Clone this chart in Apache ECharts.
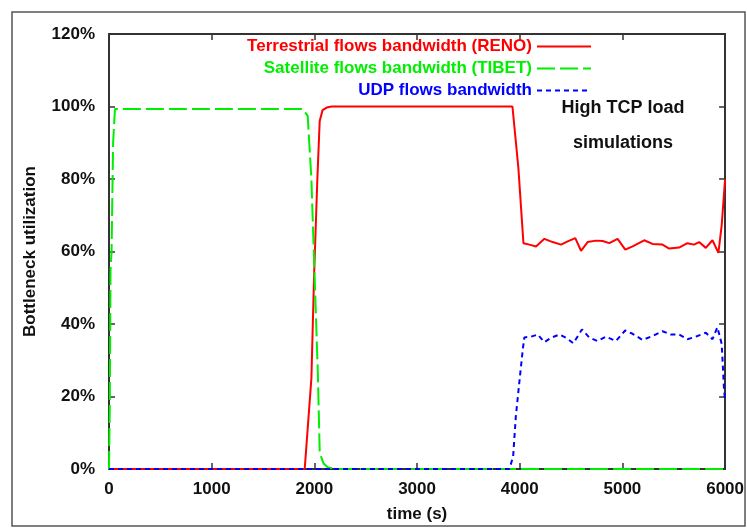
<!DOCTYPE html>
<html>
<head>
<meta charset="utf-8">
<script src="https://cdn.jsdelivr.net/npm/echarts@6/dist/echarts.min.js"></script>
<style>html,body{margin:0;padding:0;background:#fff}#c{width:747px;height:528px}</style>
</head>
<body>
<div id="c"></div>
<script>
// ---- data ----
var xTicks = [0, 1000, 2000, 3000, 4000, 5000, 6000];
var yTicks = [0, 20, 40, 60, 80, 100, 120];

var seriesNames = ['Terrestrial flows bandwidth (RENO)', 'Satellite flows bandwidth (TIBET)', 'UDP flows bandwidth'];

var redTime = [0, 1906, 1971, 1997, 2029, 2052, 2080, 2120, 2168, 3929, 3987, 4036, 4094, 4159, 4240, 4321, 4402, 4467, 4541, 4597, 4661, 4742, 4807, 4872, 4953, 5028, 5099, 5212, 5293, 5390, 5455, 5552, 5633, 5698, 5747, 5812, 5877, 5935, 5967, 6000];
var redUtil = [0, 0, 25, 53, 80, 96, 99, 99.7, 100, 100, 83, 62.3, 61.9, 61.4, 63.5, 62.6, 61.9, 62.8, 63.7, 60.2, 62.6, 63.0, 62.9, 62.3, 63.5, 60.5, 61.4, 63.1, 62.1, 61.9, 60.8, 61.1, 62.3, 61.9, 62.6, 61.0, 63.1, 59.6, 67.3, 80];

var greenTime = [0, 8, 15, 25, 40, 58, 1887, 1935, 1971, 2003, 2035, 2052, 2090, 2133, 2214, 6000];
var greenUtil = [0, 18, 55, 60, 90, 99.3, 99.3, 97.4, 80, 52.7, 25.4, 4.5, 1.5, 0.4, 0, 0];

var blueTime = [0, 3900, 3936, 3962, 4000, 4030, 4045, 4110, 4175, 4240, 4305, 4386, 4451, 4522, 4606, 4677, 4758, 4840, 4937, 5027, 5099, 5196, 5293, 5390, 5471, 5552, 5633, 5715, 5812, 5877, 5925, 5941, 5967, 5990, 6000];
var blueUtil = [0, 0, 3.5, 14.5, 25, 33, 36.3, 36.5, 37.1, 35.0, 36.2, 37.1, 36.2, 34.7, 38.5, 36.3, 35.3, 36.5, 35.3, 38.2, 37.3, 35.6, 36.7, 38.0, 37.1, 37.1, 35.8, 36.5, 37.6, 35.8, 39.1, 39.5, 34.5, 21.8, 19];

var annotation = ['High TCP load', 'simulations'];

function pairs(t, v) { return t.map(function (x, i) { return [x, v[i]]; }); }

var FONT = '"Liberation Sans", Arial, sans-serif';
var colors = ['#ff0000', '#00ee00', '#0000ff'];
var dashes = ['solid', [18, 5], [5, 4]];

var chart = echarts.init(document.getElementById('c'), null, { renderer: 'canvas' });

var axisLine = { show: true, onZero: false, lineStyle: { color: '#333', width: 2 } };
var tickIn = { show: true, inside: true, length: 6, lineStyle: { color: '#333', width: 1.5 } };

chart.setOption({
  animation: false,
  backgroundColor: '#fff',
  grid: { left: 109, right: 21, top: 34, bottom: 55, containLabel: false },
  legend: {
    orient: 'vertical',
    right: 150,
    top: 33,
    align: 'right',
    itemWidth: 54,
    itemHeight: 12,
    itemGap: 5,
    itemStyle: { opacity: 0 },
    textStyle: { fontFamily: FONT, fontWeight: 'bold', fontSize: 17 },
    data: seriesNames.map(function (n, i) {
      return { name: n, textStyle: { color: colors[i] } };
    })
  },
  xAxis: [{
    type: 'value', min: 0, max: 6000, interval: 1000, position: 'bottom',
    name: 'time (s)', nameLocation: 'middle', nameGap: 37,
    nameTextStyle: { fontFamily: FONT, fontWeight: 'bold', fontSize: 17, color: '#111' },
    axisLine: axisLine, axisTick: tickIn, splitLine: { show: false },
    axisLabel: { margin: 12, fontFamily: FONT, fontWeight: 'bold', fontSize: 17, color: '#111',
      formatter: function (v) { return xTicks.indexOf(v) >= 0 ? String(v) : ''; } }
  }, {
    type: 'value', min: 0, max: 6000, interval: 1000, position: 'top',
    axisLine: axisLine, axisTick: tickIn, splitLine: { show: false }, axisLabel: { show: false }
  }],
  yAxis: [{
    type: 'value', min: 0, max: 120, interval: 20, position: 'left',
    name: 'Bottleneck utilization', nameLocation: 'middle', nameGap: 70,
    nameTextStyle: { fontFamily: FONT, fontWeight: 'bold', fontSize: 17, color: '#111' },
    axisLine: axisLine, axisTick: tickIn, splitLine: { show: false },
    axisLabel: { margin: 14, fontFamily: FONT, fontWeight: 'bold', fontSize: 17, color: '#111',
      formatter: function (v) { return yTicks.indexOf(v) >= 0 ? v + '%' : ''; } }
  }, {
    type: 'value', min: 0, max: 120, interval: 20, position: 'right',
    axisLine: axisLine, axisTick: tickIn, splitLine: { show: false }, axisLabel: { show: false }
  }],
  graphic: [{
    type: 'rect', z: -1, silent: true,
    shape: { x: 12, y: 12, width: 733, height: 514 },
    style: { fill: 'none', stroke: '#555', lineWidth: 1.5 }
  }, {
    type: 'text', silent: true, x: 623, y: 108,
    style: { text: annotation[0], textAlign: 'center', textVerticalAlign: 'middle',
      font: 'bold 18px "Liberation Sans", Arial, sans-serif', fill: '#111' }
  }, {
    type: 'text', silent: true, x: 623, y: 143,
    style: { text: annotation[1], textAlign: 'center', textVerticalAlign: 'middle',
      font: 'bold 18px "Liberation Sans", Arial, sans-serif', fill: '#111' }
  }],
  series: seriesNames.map(function (n, i) {
    var data = i === 0 ? pairs(redTime, redUtil) : i === 1 ? pairs(greenTime, greenUtil) : pairs(blueTime, blueUtil);
    return {
      name: n, type: 'line', xAxisIndex: 0, yAxisIndex: 0, symbol: 'none',
      data: data,
      lineStyle: { color: colors[i], width: 2, type: dashes[i] },
      itemStyle: { color: colors[i] }
    };
  })
});
</script>
</body>
</html>
